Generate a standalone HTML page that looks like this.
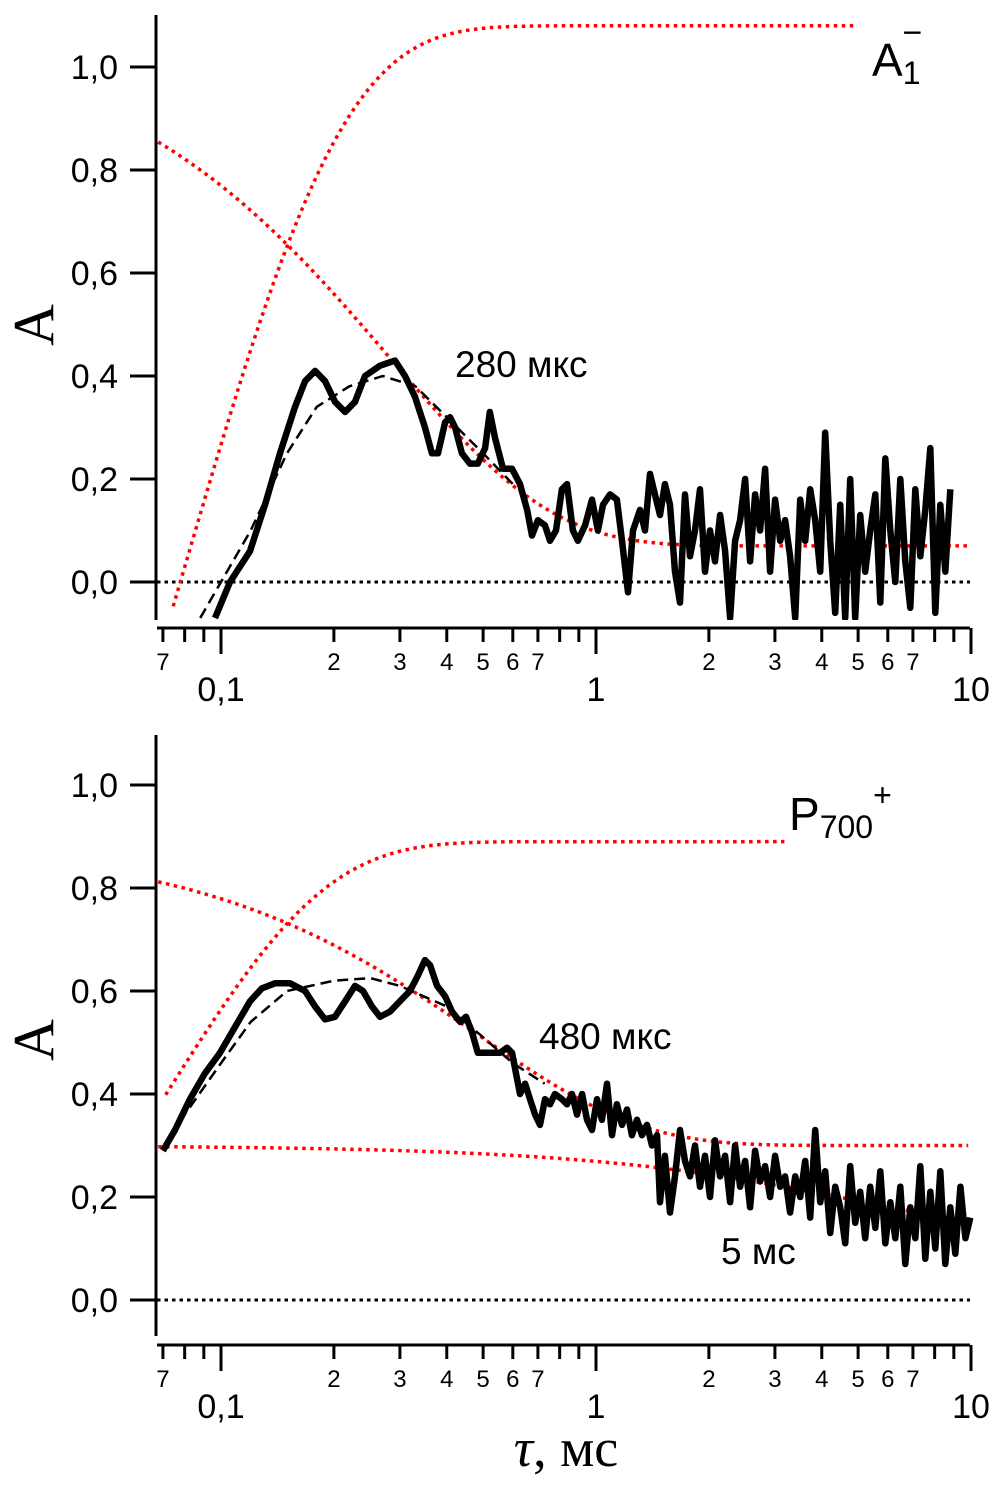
<!DOCTYPE html>
<html><head><meta charset="utf-8"><style>
html,body{margin:0;padding:0;background:#fff}
svg{display:block}
text{font-family:"Liberation Sans",sans-serif;fill:#000}
</style></head><body>
<svg id="chart" width="1000" height="1490" viewBox="0 0 1000 1490" xmlns="http://www.w3.org/2000/svg">
<g id="top"></g>
<g id="bot"></g>
<text x="34" y="325" font-size="58" text-anchor="middle" transform="rotate(-90 34 325)" style="font-family:'Liberation Serif',serif" dominant-baseline="central">A</text>
<text x="34" y="1040" font-size="58" text-anchor="middle" transform="rotate(-90 34 1040)" style="font-family:'Liberation Serif',serif" dominant-baseline="central">A</text>
<text x="566" y="1466" font-size="54" text-anchor="middle" style="font-family:'Liberation Serif',serif"><tspan font-style="italic">τ</tspan>, мс</text>
<text x="455" y="377" font-size="37">280 мкс</text>
<text x="872" y="76" font-size="46">A<tspan font-size="32" dy="8">1</tspan><tspan font-size="34" dx="-18" dy="-40">−</tspan></text>
<text x="539" y="1049" font-size="37">480 мкс</text>
<text x="789" y="830" font-size="46">P<tspan font-size="32" dy="8">700</tspan><tspan font-size="32" dy="-32">+</tspan></text>
<text x="721" y="1264" font-size="37">5 мс</text>
</svg>
<script>
// ---- data ----
const yTicks=[0,0.2,0.4,0.6,0.8,1.0];
const yTickLabels=["0,0","0,2","0,4","0,6","0,8","1,0"];
const xMinorTicks=[0.07,0.08,0.09,0.2,0.3,0.4,0.5,0.6,0.7,0.8,0.9,2,3,4,5,6,7,8,9];
const xMinorLabels={0.07:"7",0.2:"2",0.3:"3",0.4:"4",0.5:"5",0.6:"6",0.7:"7",2:"2",3:"3",4:"4",5:"5",6:"6",7:"7"};
const xMajorTicks=[0.1,1,10];
const xMajorLabels=["0,1","1","10"];

const topT=[0.0964,0.1057,0.1195,0.131,0.1437,0.1575,0.1676,0.1782,0.1894,0.2014,0.2142,0.2277,0.2421,0.2655,0.2911,0.3095,0.329,0.35,0.365,0.379,0.396,0.408,0.421,0.439,0.461,0.484,0.506,0.521,0.538,0.565,0.597,0.627,0.655,0.675,0.700,0.731,0.754,0.782,0.811,0.837,0.868,0.895,0.935,0.976,1.012,1.044,1.090,1.137,1.173,1.217,1.255,1.310,1.351,1.393,1.436,1.481,1.527,1.575,1.624,1.675,1.727,1.781,1.837,1.894,1.953,2.014,2.077,2.142,2.209,2.278,2.349,2.422,2.498,2.576,2.656,2.739,2.825,2.913,3.004,3.098,3.194,3.294,3.397,3.503,3.612,3.725,3.841,3.961,4.085,4.212,4.344,4.479,4.619,4.763,4.912,5.065,5.223,5.386,5.555,5.728,5.907,6.091,6.281,6.478,6.680,6.888,7.103,7.325,7.554,7.789,8.033,8.283,8.542,8.808];
const topA=[-0.07,0.0,0.06,0.15,0.25,0.34,0.39,0.41,0.39,0.35,0.33,0.35,0.40,0.42,0.43,0.40,0.36,0.30,0.25,0.25,0.31,0.32,0.30,0.25,0.23,0.23,0.26,0.33,0.28,0.22,0.22,0.19,0.14,0.09,0.12,0.11,0.08,0.10,0.18,0.19,0.10,0.08,0.11,0.16,0.10,0.15,0.17,0.16,0.08,-0.02,0.10,0.14,0.10,0.21,0.17,0.13,0.19,0.15,0.02,-0.04,0.17,0.05,0.10,0.18,0.02,0.10,0.04,0.13,0.06,-0.07,0.08,0.12,0.20,0.04,0.17,0.10,0.22,0.02,0.16,0.08,0.12,0.05,-0.07,0.16,0.08,0.18,0.12,0.02,0.29,0.08,-0.06,0.15,-0.07,0.20,-0.07,0.13,0.02,0.10,0.17,-0.04,0.24,0.10,0.0,0.20,0.04,-0.05,0.18,0.05,0.14,0.26,-0.06,0.15,0.02,0.18];
const topFitT=[0.088,0.1,0.12,0.15,0.18,0.22,0.27,0.33,0.4,0.5,0.6];
const topFitA=[-0.07,0.0,0.1,0.25,0.34,0.38,0.40,0.38,0.32,0.25,0.19];

const botT=[0.070,0.0754,0.0826,0.0906,0.0994,0.109,0.1195,0.1285,0.1393,0.1528,0.1676,0.1782,0.1894,0.2014,0.2142,0.2277,0.2392,0.2527,0.2655,0.2823,0.300,0.319,0.335,0.350,0.361,0.377,0.396,0.413,0.434,0.450,0.467,0.484,0.506,0.531,0.555,0.579,0.597,0.612,0.627,0.647,0.667,0.688,0.709,0.731,0.754,0.777,0.811,0.837,0.863,0.890,0.918,0.946,0.976,1.006,1.037,1.070,1.103,1.137,1.173,1.210,1.247,1.286,1.326,1.368,1.410,1.454,1.481,1.527,1.575,1.624,1.675,1.727,1.781,1.837,1.894,1.953,2.014,2.077,2.142,2.209,2.278,2.349,2.422,2.498,2.576,2.656,2.739,2.825,2.913,3.004,3.098,3.194,3.294,3.397,3.503,3.612,3.725,3.841,3.961,4.085,4.212,4.344,4.479,4.619,4.763,4.912,5.065,5.223,5.386,5.555,5.728,5.907,6.091,6.281,6.478,6.680,6.888,7.103,7.325,7.554,7.789,8.033,8.283,8.542,8.808,9.08,9.37,9.66,9.96];
const botA=[0.29,0.33,0.39,0.44,0.48,0.53,0.58,0.605,0.615,0.615,0.60,0.57,0.545,0.55,0.58,0.61,0.60,0.57,0.55,0.56,0.58,0.60,0.63,0.66,0.65,0.61,0.59,0.56,0.54,0.55,0.52,0.48,0.48,0.48,0.48,0.49,0.48,0.44,0.40,0.42,0.39,0.36,0.34,0.39,0.38,0.40,0.39,0.38,0.40,0.36,0.40,0.35,0.33,0.39,0.35,0.42,0.32,0.38,0.34,0.37,0.32,0.35,0.32,0.34,0.30,0.32,0.19,0.28,0.17,0.24,0.33,0.27,0.24,0.30,0.22,0.28,0.20,0.31,0.24,0.28,0.19,0.30,0.22,0.27,0.18,0.29,0.23,0.26,0.20,0.28,0.22,0.24,0.17,0.24,0.20,0.27,0.16,0.33,0.19,0.25,0.13,0.22,0.18,0.11,0.26,0.15,0.21,0.12,0.22,0.14,0.25,0.11,0.19,0.12,0.22,0.07,0.18,0.12,0.26,0.08,0.21,0.10,0.25,0.07,0.18,0.09,0.22,0.12,0.16];
const botFitT=[0.07,0.08,0.1,0.12,0.15,0.2,0.25,0.3,0.4,0.5,0.6,0.73];
const botFitA=[0.29,0.36,0.46,0.54,0.60,0.62,0.625,0.61,0.57,0.51,0.46,0.42];

// model components: [type, amplitude, tau(ms), offset, t0, tEnd]
const topRise=["rise",1.15,0.078,-0.07,0.073,5.0];
const topDecay=["decay",1.0,0.28,0.07,0,10];
const botRise=["rise",0.5,0.07,0.39,0.07,3.2];
const botDecay=["decay",0.59,0.48,0.30,0,10];
const botSlow=["decay",0.17,5.0,0.13,0,10];

// ---- drawing ----
const NS="http://www.w3.org/2000/svg";
const X0=596, PXDEC=375;
function xs(t){return X0+PXDEC*Math.log10(t);}
function mk(parent,tag,attrs){const e=document.createElementNS(NS,tag);for(const k in attrs)e.setAttribute(k,attrs[k]);parent.appendChild(e);return e;}

function panel(g,y0,yTop,yBottom,axisY,pre){
  const ys=v=>y0-515*v;
  const cp=mk(g,"clipPath",{id:pre+"clip"});
  mk(cp,"rect",{x:157,y:yTop,width:830,height:yBottom-yTop});
  const yAxis=mk(g,"line",{x1:156,y1:yTop,x2:156,y2:yBottom,stroke:"#000","stroke-width":3});
  
  
  yTicks.forEach((v,i)=>{
    const tk=mk(g,"line",{x1:130,y1:ys(v),x2:156,y2:ys(v),stroke:"#000","stroke-width":3});
    
    
    const tx=mk(g,"text",{x:118,y:ys(v)+12,"font-size":34,"text-anchor":"end"});
    tx.textContent=yTickLabels[i];
    
    
  });
  const xAxis=mk(g,"line",{x1:157,y1:axisY,x2:970,y2:axisY,stroke:"#000","stroke-width":3});
  
  
  xMinorTicks.forEach(t=>{
    const tk=mk(g,"line",{x1:xs(t),y1:axisY,x2:xs(t),y2:axisY+14,stroke:"#000","stroke-width":3});
    
    
    if(xMinorLabels[t]){
      const tx=mk(g,"text",{x:xs(t),y:axisY+42,"font-size":24,"text-anchor":"middle"});
      tx.textContent=xMinorLabels[t];
      
      
    }
  });
  xMajorTicks.forEach((t,i)=>{
    const tk=mk(g,"line",{x1:xs(t),y1:axisY,x2:xs(t),y2:axisY+26,stroke:"#000","stroke-width":3});
    
    
    const tx=mk(g,"text",{x:xs(t),y:axisY+73,"font-size":34,"text-anchor":"middle"});
    tx.textContent=xMajorLabels[i];
    
    
  });
  const zero=mk(g,"line",{x1:157,y1:ys(0),x2:970,y2:ys(0),stroke:"#000","stroke-width":3,"stroke-dasharray":"3.5 4"});
  
  
  return ys;
}
function poly(g,T,A,ys,attrs,name,pre){
  const pts=T.map((t,i)=>xs(t).toFixed(1)+","+ys(A[i]).toFixed(1)).join(" ");
  const p=mk(g,"polyline",Object.assign({points:pts,fill:"none","clip-path":"url(#"+pre+"clip)"},attrs));
  
  
}
function model(g,m,ys,name,pre){
  const [type,a,tau,c,t0,tEnd]=m;
  const T=[],A=[];
  for(let l=Math.log10(0.068);l<=Math.log10(tEnd)+1e-9;l+=0.01){
    const t=Math.pow(10,l);
    let v;
    if(type==="rise"){ if(t<t0) continue; v=c+a*(1-Math.exp(-(t-t0)/tau)); }
    else v=c+a*Math.exp(-t/tau);
    T.push(t);A.push(v);
  }
  poly(g,T,A,ys,{stroke:"#f00","stroke-width":3.5,"stroke-dasharray":"3.5 4.5"},name,pre);
}

const gt=document.getElementById("top");
const ysT=panel(gt,582,15,620,628,"t");
model(gt,topRise,ysT,"red-rise-curve-top","t");
model(gt,topDecay,ysT,"red-decay-280us-curve","t");
poly(gt,topFitT,topFitA,ysT,{stroke:"#000","stroke-width":2.5,"stroke-dasharray":"11 6"},"fit-dashed-top","t");
poly(gt,topT,topA,ysT,{stroke:"#000","stroke-width":6.5,"stroke-linejoin":"round"},"signal-a1-trace","t");

const gb=document.getElementById("bot");
const ysB=panel(gb,1300,735,1336,1345,"b");
model(gb,botRise,ysB,"red-rise-curve-bottom","b");
model(gb,botDecay,ysB,"red-decay-480us-curve","b");
model(gb,botSlow,ysB,"red-decay-5ms-curve","b");
poly(gb,botFitT,botFitA,ysB,{stroke:"#000","stroke-width":2.5,"stroke-dasharray":"11 6"},"fit-dashed-bottom","b");
poly(gb,botT,botA,ysB,{stroke:"#000","stroke-width":6.5,"stroke-linejoin":"round"},"signal-p700-trace","b");
</script>
</body></html>
